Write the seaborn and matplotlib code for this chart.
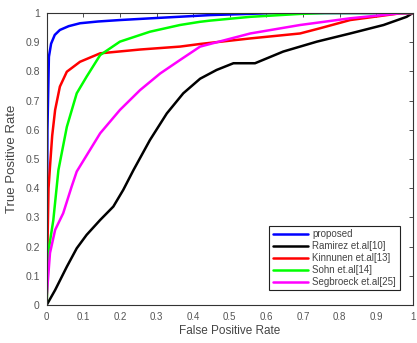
import numpy as np
import pandas as pd
import matplotlib
matplotlib.use("Agg")
import matplotlib.pyplot as plt
import seaborn as sns

# ROC curves: (false positive rate, true positive rate) for each method
proposed_fpr = [0.0, 0.002, 0.006, 0.012, 0.022, 0.036, 0.06, 0.091, 0.14, 0.2, 0.3, 0.447, 0.55, 0.62, 1.0]
proposed_tpr = [0.0, 0.6, 0.85, 0.895, 0.925, 0.942, 0.955, 0.965, 0.971, 0.976, 0.983, 0.993, 0.997, 1.0, 1.0]

ramirez_fpr = [0.0, 0.023, 0.055, 0.082, 0.109, 0.146, 0.182, 0.209, 0.237, 0.282, 0.328, 0.373, 0.419,
               0.464, 0.51, 0.569, 0.646, 0.738, 0.829, 0.92, 0.983, 1.0]
ramirez_tpr = [0.0, 0.051, 0.131, 0.194, 0.24, 0.291, 0.337, 0.394, 0.462, 0.565, 0.656, 0.725, 0.775,
               0.805, 0.828, 0.828, 0.868, 0.902, 0.93, 0.959, 0.987, 1.0]

kinnunen_fpr = [0.0, 0.002, 0.005, 0.009, 0.015, 0.023, 0.036, 0.055, 0.091, 0.146, 0.255, 0.364, 0.419,
                0.556, 0.692, 0.747, 0.829, 0.965, 1.0]
kinnunen_tpr = [0.0, 0.2, 0.4, 0.474, 0.58, 0.668, 0.748, 0.799, 0.833, 0.862, 0.875, 0.885, 0.894,
                0.913, 0.93, 0.948, 0.976, 0.999, 1.0]

sohn_fpr = [0.0, 0.004, 0.018, 0.032, 0.055, 0.082, 0.109, 0.146, 0.2, 0.282, 0.364, 0.419, 0.446,
            0.556, 0.692, 0.76, 1.0]
sohn_tpr = [0.0, 0.178, 0.29, 0.462, 0.61, 0.725, 0.782, 0.856, 0.902, 0.936, 0.959, 0.97, 0.974,
            0.987, 0.997, 1.0, 1.0]

segbroeck_fpr = [0.0, 0.0, 0.009, 0.023, 0.045, 0.068, 0.082, 0.146, 0.2, 0.255, 0.31, 0.364, 0.419,
                 0.556, 0.692, 0.829, 0.965, 1.0]
segbroeck_tpr = [0.0, 0.03, 0.178, 0.257, 0.314, 0.405, 0.457, 0.588, 0.668, 0.736, 0.793, 0.839, 0.885,
                 0.93, 0.959, 0.982, 0.999, 1.0]

methods = ["proposed", "Ramirez et.al[10]", "Kinnunen et.al[13]", "Sohn et.al[14]", "Segbroeck et.al[25]"]
colors = ["#0000ff", "#000000", "#ff0000", "#00ff00", "#ff00ff"]
tick_values = [0, 0.1, 0.2, 0.3, 0.4, 0.5, 0.6, 0.7, 0.8, 0.9, 1]
tick_labels = ["0", "0.1", "0.2", "0.3", "0.4", "0.5", "0.6", "0.7", "0.8", "0.9", "1"]

curves = [
    (proposed_fpr, proposed_tpr),
    (ramirez_fpr, ramirez_tpr),
    (kinnunen_fpr, kinnunen_tpr),
    (sohn_fpr, sohn_tpr),
    (segbroeck_fpr, segbroeck_tpr),
]
frames = []
for name, (fpr, tpr) in zip(methods, curves):
    frames.append(pd.DataFrame({"fpr": fpr, "tpr": tpr, "method": name}))
df = pd.concat(frames, ignore_index=True)

sns.set_style("white")
plt.rcParams["font.family"] = ["Liberation Sans", "DejaVu Sans"]

fig = plt.figure(figsize=(4.17, 3.43), dpi=100)
ax = fig.add_axes([0.112, 0.111, 0.878, 0.851])

sns.lineplot(data=df, x="fpr", y="tpr", hue="method", hue_order=methods,
             palette=colors, estimator=None, sort=False, units="method",
             linewidth=1.8, ax=ax, legend=True)

ax.set_xlim(0, 1)
ax.set_ylim(0, 1)
ax.set_xticks(tick_values)
ax.set_xticklabels(tick_labels)
ax.set_yticks(tick_values)
ax.set_yticklabels(tick_labels)
ax.tick_params(direction="in", length=3, width=0.6, top=True, right=True,
               colors="#333333", labelcolor="#555555", pad=5)
ax.tick_params(axis="x", labelsize=7)
ax.tick_params(axis="y", labelsize=7.5)
for s in ax.spines.values():
    s.set_linewidth(0.8)
    s.set_color("#333333")
ax.set_xlabel("False Positive Rate", fontsize=8.5, color="#444444", labelpad=2)
ax.set_ylabel("True Positive Rate", fontsize=9.5, color="#444444", labelpad=5)

leg = ax.legend(loc="lower right", fontsize=7, handlelength=3.6, labelspacing=0.2,
                borderpad=0.35, handletextpad=0.5, fancybox=False, framealpha=1,
                edgecolor="#222222", bbox_to_anchor=(0.977, 0.033))
leg.get_frame().set_linewidth(0.8)
for line in leg.get_lines():
    line.set_linewidth(1.8)
for t in leg.get_texts():
    t.set_color("#444444")

fig.savefig("out.png", dpi=100)
